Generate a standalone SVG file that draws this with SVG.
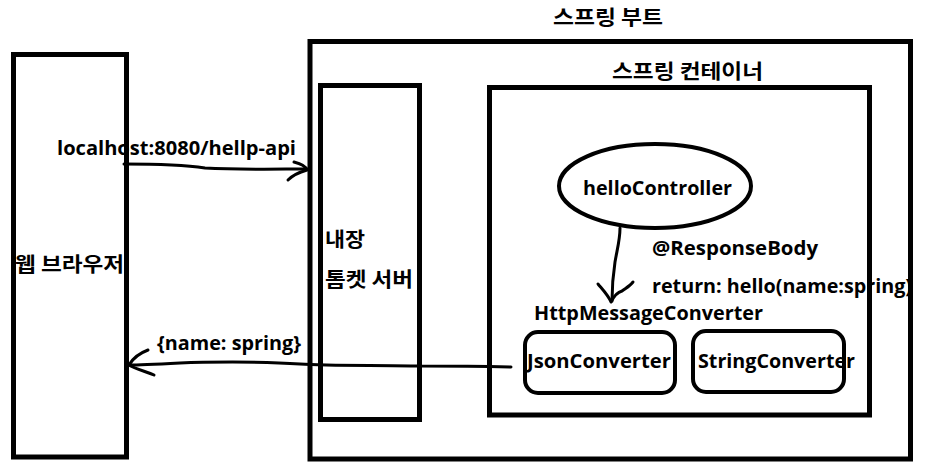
<svg xmlns="http://www.w3.org/2000/svg" width="926" height="471" viewBox="0 0 926 471">
<style>
.box{fill:none;stroke:#000;stroke-width:5}
.rbox{fill:none;stroke:#000;stroke-width:4}
.t{font-family:"Open Sans","Noto Sans CJK KR",sans-serif;font-weight:bold;font-size:20px;fill:#000}
.k{font-family:"Noto Sans CJK KR","Open Sans",sans-serif;font-weight:bold;font-size:20px;fill:#000}
.ln{fill:none;stroke:#000;stroke-width:3;stroke-linecap:round;stroke-linejoin:round}
</style>
<rect width="926" height="471" fill="#fff"/>
<g id="browser">
<rect class="box" x="13.5" y="54.5" width="113" height="402.5"/>
<text class="k" x="15" y="272" textLength="109" lengthAdjust="spacingAndGlyphs">웹 브라우저</text>
</g>
<g id="spring-boot">
<rect class="box" x="310" y="41.5" width="600.5" height="417.5"/>
<text class="k" x="553" y="25" textLength="110" lengthAdjust="spacingAndGlyphs">스프링 부트</text>
</g>
<g id="tomcat">
<rect class="box" x="320.5" y="85.5" width="99" height="334"/>
<text class="k" x="325" y="247" textLength="40" lengthAdjust="spacingAndGlyphs">내장</text>
<text class="k" x="325" y="287" textLength="88" lengthAdjust="spacingAndGlyphs">톰켓 서버</text>
</g>
<g id="spring-container">
<rect class="box" x="489.5" y="87.5" width="380" height="327.5"/>
<text class="k" x="612" y="79" textLength="151" lengthAdjust="spacingAndGlyphs">스프링 컨테이너</text>
</g>
<g id="hello-controller">
<ellipse cx="655" cy="186" rx="96" ry="42" fill="none" stroke="#000" stroke-width="4"/>
<text class="t" x="583" y="195" textLength="149" lengthAdjust="spacingAndGlyphs">helloController</text>
</g>
<g id="http-message-converter">
<text class="t" x="534" y="320" textLength="229" lengthAdjust="spacingAndGlyphs">HttpMessageConverter</text>
</g>
<g id="json-converter">
<rect class="rbox" x="525" y="332" width="150" height="61" rx="13"/>
<text class="t" x="527" y="368" textLength="144" lengthAdjust="spacingAndGlyphs">JsonConverter</text>
</g>
<g id="string-converter">
<rect class="rbox" x="693" y="331" width="151" height="61" rx="13"/>
<text class="t" x="698" y="368" textLength="157" lengthAdjust="spacingAndGlyphs">StringConverter</text>
</g>
<g id="connectors">
<path class="ln" d="M124,164 C160,164 185,165 205,168 C240,170 280,169 307,169"/>
<path class="ln" d="M294,162 C302,164 306,167 307,170 C300,172 292,176 288,180"/>
<text class="t" x="57" y="155" textLength="239" lengthAdjust="spacingAndGlyphs">localhost:8080/hellp-api</text>
<path class="ln" d="M511,367 C470,366 450,366 420,366 C380,365 330,366 300,364 C260,361 200,362 180,363 C160,364 140,365 129,365"/>
<path class="ln" d="M148,350 C140,353 133,358 129,365 C135,369 148,372 154,375"/>
<text class="t" x="157" y="350" textLength="144" lengthAdjust="spacingAndGlyphs">{name: spring}</text>
<path class="ln" d="M620,228 C620,240 617,250 615,262 C613,275 612,290 612,301"/>
<path class="ln" d="M598,284 C603,290 608,295 611,302 C614,296 618,292 622,291 C626,288 630,286 633,282"/>
<text class="t" x="652" y="255" textLength="166" lengthAdjust="spacingAndGlyphs">@ResponseBody</text>
<text class="t" x="652" y="293" textLength="260" lengthAdjust="spacingAndGlyphs">return: hello(name:spring)</text>
</g>
</svg>
